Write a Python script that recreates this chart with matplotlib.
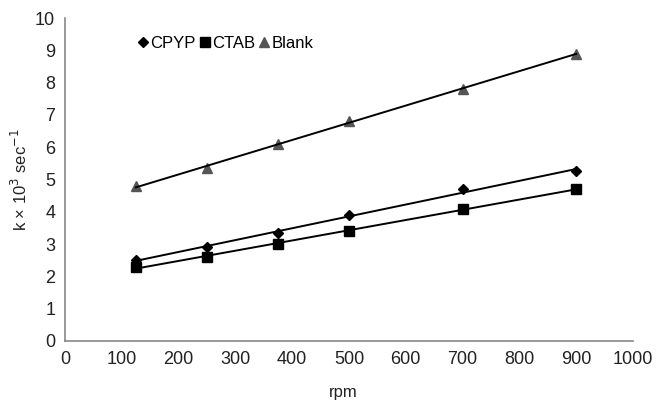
import matplotlib
matplotlib.use("Agg")
import matplotlib.pyplot as plt
import numpy as np

plt.rcParams["font.family"] = ["Liberation Sans", "DejaVu Sans"]

rpm = [125, 250, 375, 500, 700, 900]
cpyp = [2.5, 2.9, 3.35, 3.9, 4.7, 5.25]
ctab = [2.3, 2.6, 3.0, 3.4, 4.1, 4.7]
blank = [4.8, 5.35, 6.1, 6.8, 7.8, 8.9]

series = [
    ("CPYP", cpyp, "D", "black", 5),
    ("CTAB", ctab, "s", "black", 7),
    ("Blank", blank, "^", "#555555", 7),
]

fig = plt.figure(figsize=(6.56, 4.03), dpi=100)
ax = fig.add_axes([0.099, 0.154, 0.866, 0.801])

x = np.array(rpm, dtype=float)
for name, vals, mk, col, ms in series:
    ax.plot(x, vals, linestyle="none", marker=mk, color=col, markersize=ms,
            label=name)
    # linear trendline
    p = np.polyfit(x, vals, 1)
    ax.plot(x[[0, -1]], np.polyval(p, x[[0, -1]]), color="black", lw=1.4)

ax.set_xlim(0, 1000)
ax.set_ylim(0, 10)
ax.set_xticks(range(0, 1001, 100))
ax.set_yticks(range(0, 11))
ax.tick_params(length=0, labelsize=13, pad=7, colors="#222222")
for s in ("top", "right"):
    ax.spines[s].set_visible(False)
for s in ("left", "bottom"):
    ax.spines[s].set_color("#888888")
    ax.spines[s].set_linewidth(1.2)

fig.text(0.523, 0.025, "rpm", fontsize=12, color="#222222",
         ha="center", va="center")
fig.text(0.031, 0.555, "k × 10$^3$ sec$^{-1}$", fontsize=12, color="#222222",
         rotation=90, ha="center", va="center")

ax.legend(loc="upper left", bbox_to_anchor=(0.125, 0.945), ncol=3,
          frameon=False, fontsize=12, handlelength=0.8, handletextpad=0.05,
          columnspacing=0.15, borderpad=0, borderaxespad=0)

fig.savefig("out.png", dpi=100)
